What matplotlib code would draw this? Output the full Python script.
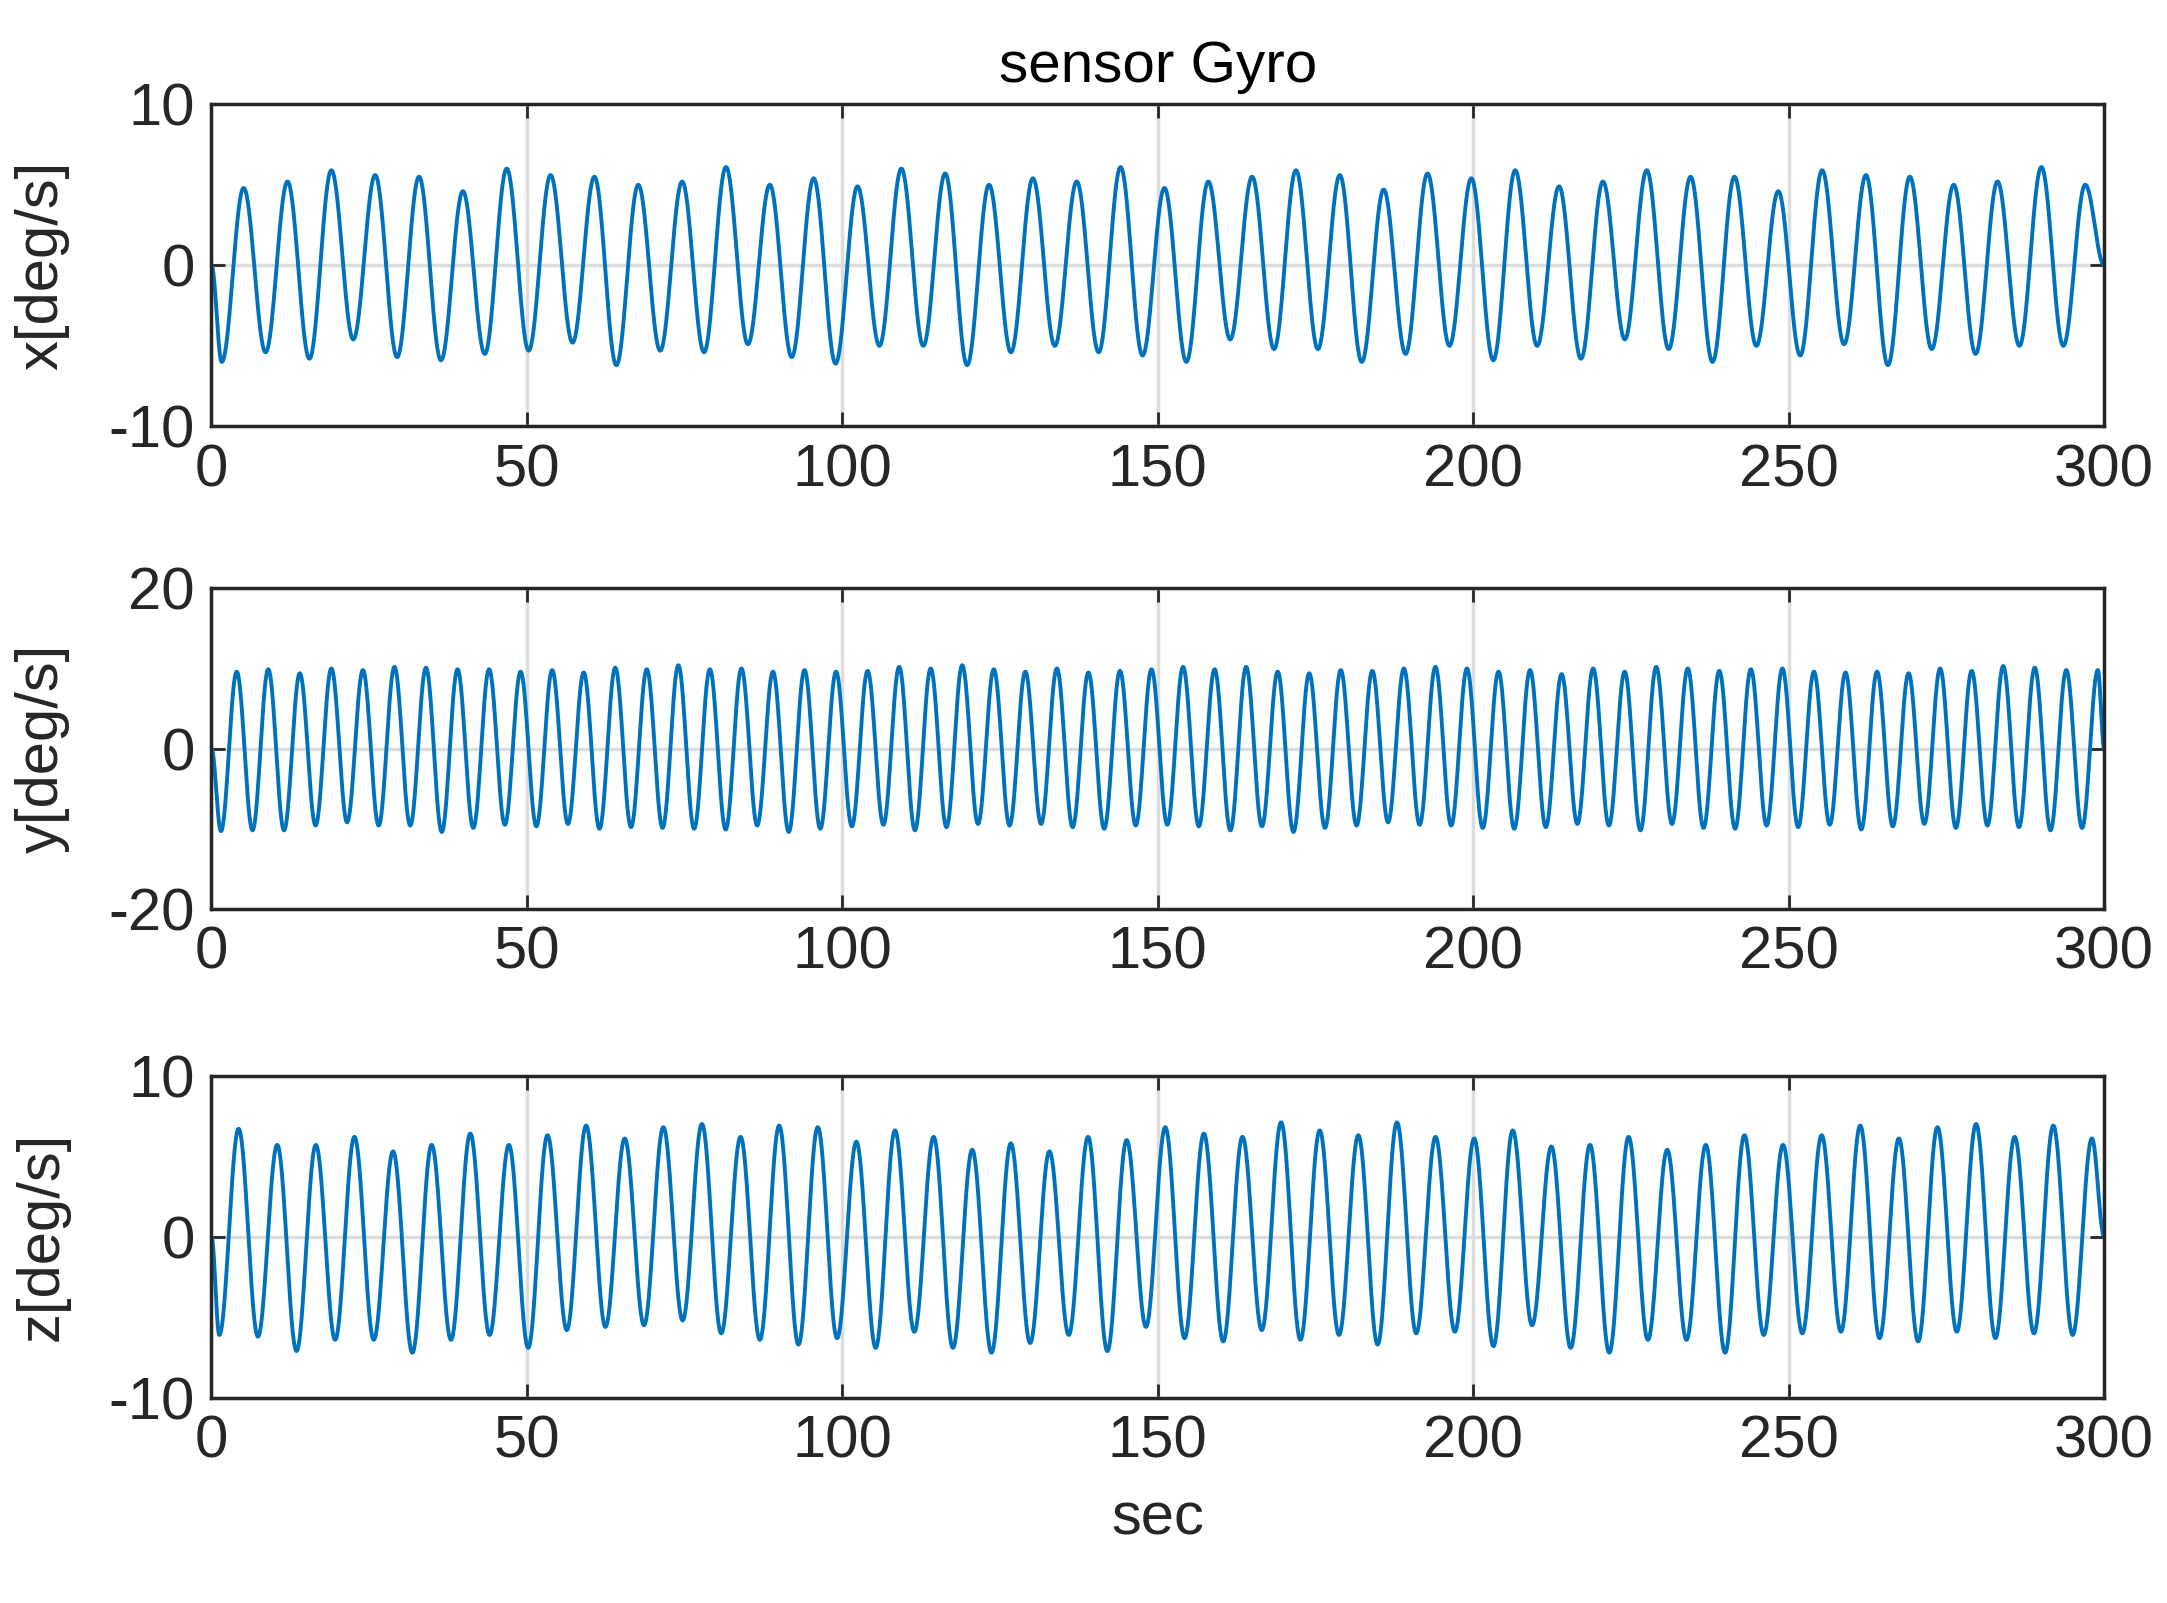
import numpy as np
import matplotlib
matplotlib.use("Agg")
import matplotlib.pyplot as plt

plt.rcParams['font.family'] = ['Liberation Sans', 'DejaVu Sans']
plt.rcParams['axes.unicode_minus'] = False

# extrema (peak / trough values per cycle)
x_peak_t0, x_period = 5.1, 6.95
x_peaks = [4.8,5.2,5.9,5.6,5.5,4.6,6.0,5.6,5.5,5.0,5.2,6.1,5.0,5.4,4.9,6.0,5.7,5.0,5.4,5.2,6.1,4.8,
           5.2,5.5,5.9,5.6,4.7,5.7,5.4,5.9,4.9,5.2,5.9,5.5,5.5,4.6,5.9,5.6,5.5,5.0,5.2,6.1,5.0]
x_troughs = [-6.0,-5.4,-5.8,-4.6,-5.7,-5.9,-5.5,-5.3,-4.8,-6.2,-5.3,-5.4,-4.9,-5.7,-6.1,-5.0,-5.0,-6.2,
             -5.4,-5.0,-5.4,-5.6,-6.0,-4.6,-5.2,-5.2,-6.0,-5.5,-5.0,-5.9,-5.0,-5.8,-4.6,-5.2,-6.0,-5.0,
             -5.6,-4.9,-6.2,-5.2,-5.5,-5.0,-5.0]

y_peak_t0, y_period = 4.0, 5.0
y_peaks = [9.6,9.9,9.4,10.0,9.8,10.2,10.1,9.9,9.9,9.6,9.8,9.5,10.1,9.9,10.4,9.9,10.0,9.6,9.8,9.6,
           9.7,10.2,10.0,10.4,9.9,9.6,10.0,9.5,9.7,9.9,10.2,9.9,10.2,9.6,9.4,9.8,9.7,10.0,10.2,10.0,
           9.6,9.8,9.3,10.0,9.6,10.2,10.0,9.7,9.9,10.0,9.6,9.5,9.6,9.4,10.0,9.7,10.3,10.1,9.8,9.8]
y_troughs = [-10.3,-10.2,-10.2,-9.6,-9.2,-9.6,-9.6,-10.4,-9.9,-9.5,-9.7,-9.4,-10.0,-9.8,-9.9,-10.0,
             -10.1,-9.6,-10.4,-10.0,-9.7,-9.5,-10.2,-9.8,-9.4,-9.6,-9.4,-9.8,-10.0,-9.6,-9.5,-9.7,
             -10.2,-9.7,-10.4,-9.9,-9.6,-9.2,-9.5,-9.6,-9.9,-10.0,-9.8,-9.4,-9.6,-10.2,-9.4,-9.9,
             -10.0,-9.6,-9.8,-9.5,-10.1,-9.7,-9.4,-9.9,-9.6,-9.8,-10.2,-9.9]

z_peak_t0, z_period = 4.3, 6.12
z_peaks = [6.7,5.7,5.7,6.2,5.3,5.7,6.4,5.7,6.3,6.9,6.1,6.8,7.0,6.2,6.9,6.8,5.9,6.6,6.2,5.4,5.8,5.3,
           6.2,6.0,6.8,6.4,6.2,7.1,6.6,6.3,7.1,6.2,6.1,6.6,5.6,5.7,6.2,5.4,5.7,6.3,5.7,6.3,6.9,6.1,
           6.8,7.0,6.2,6.9,6.1]
z_troughs = [-6.1,-6.2,-7.1,-6.4,-6.4,-7.2,-6.4,-6.1,-6.9,-5.8,-5.6,-5.5,-5.2,-6.0,-6.4,-6.7,-6.3,
             -6.9,-5.9,-6.9,-7.2,-6.6,-6.1,-7.1,-5.6,-6.3,-6.5,-5.8,-6.4,-6.1,-6.7,-6.0,-5.9,-6.8,
             -5.5,-6.9,-7.2,-6.4,-6.4,-7.2,-6.1,-6.0,-5.9,-6.3,-6.5,-5.9,-6.3,-6.0,-6.1]

ylabels = ['x[deg/s]', 'y[deg/s]', 'z[deg/s]']
ylims = [(-10, 10), (-20, 20), (-10, 10)]
xticks = [0, 50, 100, 150, 200, 250, 300]


def build(t0, period, peaks, troughs):
    n = len(peaks)
    et, ev = [0.0], [0.0]
    for k in range(n):
        tp = t0 + period * k
        et += [tp - period / 2, tp]
        ev += [troughs[k], peaks[k]]
    if et[-1] < 300:
        et.append(300.0); ev.append(0.0)
    t, v = [], []
    for i in range(len(et) - 1):
        s = np.linspace(0, 1, 40, endpoint=False)
        t.append(et[i] + s * (et[i + 1] - et[i]))
        v.append(ev[i] + (ev[i + 1] - ev[i]) * (1 - np.cos(np.pi * s)) / 2)
    t = np.concatenate(t); v = np.concatenate(v)
    m = t <= 300
    return t[m], v[m]


series = [build(x_peak_t0, x_period, x_peaks, x_troughs),
          build(y_peak_t0, y_period, y_peaks, y_troughs),
          build(z_peak_t0, z_period, z_peaks, z_troughs)]

fig = plt.figure(figsize=(21.67, 16.03), dpi=100)
boxes = [(0.0976, 0.734, 0.8734, 0.201), (0.0976, 0.433, 0.8734, 0.200), (0.0976, 0.128, 0.8734, 0.201)]
for i, (t, v) in enumerate(series):
    ax = fig.add_axes(boxes[i])
    ax.plot(t, v, color='#0072BD', lw=2.8)
    ax.set_xlim(0, 300)
    ax.set_ylim(*ylims[i])
    ax.set_xticks(xticks)
    lo, hi = ylims[i]
    ax.set_yticks([lo, 0, hi])
    ax.grid(True, color='#dddddd', lw=2.5)
    ax.set_axisbelow(True)
    ax.tick_params(direction='in', labelsize=43, length=10, width=2, top=True, right=True,
                   colors='#262626', pad=12)
    for s in ax.spines.values():
        s.set_linewidth(2.5); s.set_color('#262626')
    ax.set_ylabel(ylabels[i], fontsize=43, color='#262626')
    ax.yaxis.set_label_coords(-0.075, 0.5)
    if i == 0:
        ax.set_title('sensor Gyro', fontsize=42, pad=16)
    if i == 2:
        ax.set_xlabel('sec', fontsize=43, color='#262626', labelpad=16)

fig.savefig('out.png', dpi=100)
